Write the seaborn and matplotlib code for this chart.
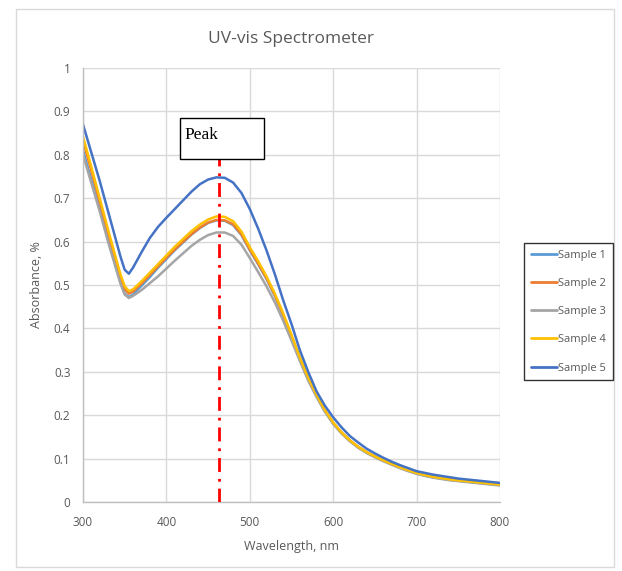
import matplotlib
matplotlib.use("Agg")
import matplotlib.pyplot as plt
from matplotlib.patches import Rectangle
import numpy as np
import pandas as pd
import seaborn as sns

# ── Data ─────────────────────────────────────────────────────────────────────

wavelength = [300, 310, 320, 330, 340, 345, 350, 355, 360, 370, 380, 390, 400,
              410, 420, 430, 440, 450, 460, 470, 480, 490, 500, 510, 520, 530,
              540, 550, 560, 570, 580, 590, 600, 610, 620, 630, 640, 650, 660,
              670, 680, 690, 700, 710, 720, 730, 740, 750, 760, 770, 780, 790, 800]

sample_1 = [0.810, 0.742, 0.675, 0.605, 0.538, 0.505, 0.480, 0.472, 0.478, 0.498,
            0.518, 0.540, 0.560, 0.580, 0.598, 0.616, 0.631, 0.643, 0.649, 0.648,
            0.638, 0.615, 0.580, 0.548, 0.514, 0.475, 0.430, 0.380, 0.330, 0.284,
            0.245, 0.210, 0.181, 0.159, 0.141, 0.126, 0.114, 0.104, 0.095, 0.087,
            0.079, 0.072, 0.066, 0.061, 0.057, 0.054, 0.051, 0.049, 0.047, 0.045,
            0.043, 0.041, 0.039]
sample_2 = [0.832, 0.763, 0.692, 0.620, 0.550, 0.517, 0.490, 0.480, 0.485, 0.503,
            0.523, 0.543, 0.563, 0.582, 0.600, 0.617, 0.632, 0.644, 0.650, 0.649,
            0.640, 0.617, 0.582, 0.550, 0.516, 0.477, 0.432, 0.382, 0.331, 0.285,
            0.246, 0.211, 0.182, 0.160, 0.142, 0.127, 0.115, 0.105, 0.096, 0.088,
            0.080, 0.073, 0.067, 0.062, 0.058, 0.055, 0.052, 0.050, 0.048, 0.046,
            0.044, 0.042, 0.040]
sample_3 = [0.800, 0.735, 0.670, 0.600, 0.535, 0.503, 0.478, 0.470, 0.475, 0.488,
            0.504, 0.520, 0.538, 0.556, 0.573, 0.590, 0.604, 0.615, 0.621, 0.621,
            0.613, 0.593, 0.562, 0.530, 0.497, 0.460, 0.418, 0.372, 0.325, 0.280,
            0.242, 0.208, 0.180, 0.158, 0.140, 0.125, 0.113, 0.103, 0.094, 0.086,
            0.078, 0.071, 0.065, 0.060, 0.056, 0.053, 0.050, 0.048, 0.046, 0.044,
            0.042, 0.040, 0.038]
sample_4 = [0.842, 0.772, 0.700, 0.628, 0.558, 0.524, 0.497, 0.486, 0.490, 0.508,
            0.528, 0.548, 0.568, 0.588, 0.606, 0.624, 0.639, 0.651, 0.658, 0.657,
            0.647, 0.623, 0.587, 0.555, 0.520, 0.480, 0.435, 0.385, 0.333, 0.287,
            0.247, 0.212, 0.183, 0.160, 0.142, 0.127, 0.115, 0.105, 0.096, 0.088,
            0.080, 0.073, 0.067, 0.062, 0.058, 0.055, 0.052, 0.050, 0.048, 0.046,
            0.044, 0.042, 0.040]
sample_5 = [0.870, 0.805, 0.740, 0.670, 0.600, 0.565, 0.535, 0.526, 0.540, 0.575,
            0.608, 0.634, 0.655, 0.675, 0.695, 0.715, 0.732, 0.743, 0.748, 0.747,
            0.736, 0.712, 0.675, 0.630, 0.580, 0.525, 0.465, 0.410, 0.350, 0.300,
            0.255, 0.222, 0.195, 0.172, 0.152, 0.137, 0.123, 0.112, 0.102, 0.093,
            0.085, 0.078, 0.071, 0.067, 0.063, 0.060, 0.057, 0.054, 0.052, 0.050,
            0.048, 0.046, 0.044]

series_names = ["Sample 1", "Sample 2", "Sample 3", "Sample 4", "Sample 5"]
series_values = [sample_1, sample_2, sample_3, sample_4, sample_5]
colors = ["#5B9BD5", "#ED7D31", "#A5A5A5", "#FFC000", "#4472C4"]

x_ticks = [300, 400, 500, 600, 700, 800]
y_ticks = [0, 0.1, 0.2, 0.3, 0.4, 0.5, 0.6, 0.7, 0.8, 0.9, 1]
y_tick_labels = ["0", "0.1", "0.2", "0.3", "0.4", "0.5", "0.6", "0.7", "0.8", "0.9", "1"]

PEAK_NM = 463
PEAK_BOX = (416, 517, 0.79, 0.885)   # x0, x1, y0, y1 in data units

long = pd.concat(
    [pd.DataFrame({"Wavelength": wavelength, "Absorbance": vals, "Series": name})
     for name, vals in zip(series_names, series_values)],
    ignore_index=True,
)

# ── Plot ──────────────────────────────────────────────────────────────────────

sns.set_theme(style="white")
plt.rcParams["font.family"] = ["Open Sans", "DejaVu Sans"]
TXT = "#595959"

fig = plt.figure(figsize=(6.22, 5.71), dpi=100)
ax = fig.add_axes([83 / 622, 1 - 502 / 571, 417 / 622, 434 / 571])

# chart frame
fig.patches.append(Rectangle((16 / 622, 4 / 571), 598 / 622, 558 / 571,
                             transform=fig.transFigure, fill=False,
                             edgecolor="#D9D9D9", lw=1.0))

sns.lineplot(data=long, x="Wavelength", y="Absorbance", hue="Series",
             hue_order=series_names, palette=colors, lw=1.8,
             legend=False, ax=ax, sort=False)

ax.set_xlim(300, 800)
ax.set_ylim(0, 1)
ax.set_xticks(x_ticks)
ax.set_yticks(y_ticks)
ax.set_yticklabels(y_tick_labels)
ax.grid(True, color="#D9D9D9", lw=1.0)
ax.set_axisbelow(True)
for side in ["top", "right"]:
    ax.spines[side].set_visible(False)
for side in ["left", "bottom"]:
    ax.spines[side].set_color("#BFBFBF")
    ax.spines[side].set_linewidth(1.0)
ax.tick_params(axis="both", length=0, colors=TXT, labelsize=8.5)
ax.tick_params(axis="y", pad=9)
ax.tick_params(axis="x", pad=10)
ax.set_xlabel("Wavelength, nm", color=TXT, fontsize=9, labelpad=8)
ax.set_ylabel("Absorbance, %", color=TXT, fontsize=9, labelpad=8)
ax.set_title("UV-vis Spectrometer", color=TXT, fontsize=12.5, pad=18)

# peak marker
x0, x1, y0, y1 = PEAK_BOX
ax.plot([PEAK_NM, PEAK_NM], [0, y0], color="red", lw=2.0,
        linestyle=(0, (5, 2.5, 1, 2.5)), zorder=3)
ax.add_patch(Rectangle((x0, y0), x1 - x0, y1 - y0, facecolor="white",
                       edgecolor="black", lw=1.0, zorder=4))
ax.text(x0 + 6, y1 - 0.022, "Peak", family="Liberation Serif", fontsize=12.5,
        ha="left", va="top", color="black", zorder=5)

# legend
handles = [plt.Line2D([], [], color=c, lw=2) for c in colors]
leg = fig.legend(handles, series_names, loc="upper left",
                 bbox_to_anchor=(524 / 622, 1 - 243 / 571), borderaxespad=0,
                 frameon=True, fancybox=False, fontsize=8,
                 handlelength=2.4, handletextpad=0.1, labelspacing=1.55,
                 borderpad=0.6, labelcolor=TXT)
leg.get_frame().set_edgecolor("black")
leg.get_frame().set_linewidth(1.0)

fig.savefig("out.png", dpi=100)
